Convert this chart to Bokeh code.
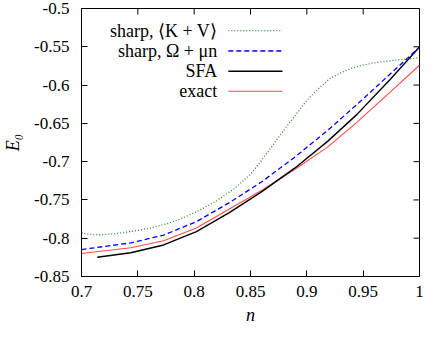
import math
from bokeh.plotting import figure
from bokeh.models import FixedTicker, Label, Range1d
from bokeh.embed import file_html
from bokeh.resources import INLINE

# ---- data ----
green_n = [0.700, 0.705, 0.710, 0.718, 0.730, 0.745, 0.760, 0.775, 0.790, 0.805,
           0.820, 0.835, 0.850, 0.860, 0.870, 0.880, 0.890, 0.900, 0.910, 0.920,
           0.930, 0.940, 0.950, 0.960, 0.970, 0.980, 0.990, 1.000]
green_E = [-0.7926, -0.7945, -0.7953, -0.7955, -0.7940, -0.7910, -0.7870, -0.7815, -0.7735, -0.7635,
           -0.7510, -0.7360, -0.7165, -0.6980, -0.6780, -0.6580, -0.6390, -0.6200, -0.6050, -0.5920,
           -0.5840, -0.5780, -0.5738, -0.5710, -0.5690, -0.5672, -0.5658, -0.5645]

blue_n = [0.700, 0.7437, 0.7729, 0.802, 0.8312, 0.8604, 0.8895, 0.9187, 0.9443, 0.9735, 1.000]
blue_E = [-0.8148, -0.8061, -0.7959, -0.7784, -0.7536, -0.7259, -0.6939, -0.6589, -0.6256, -0.5862, -0.5504]

sfa_n = [0.714, 0.7437, 0.7729, 0.802, 0.8312, 0.8604, 0.8895, 0.9187, 0.9443, 0.9735, 1.000]
sfa_E = [-0.8249, -0.8190, -0.8088, -0.7913, -0.7665, -0.7388, -0.7082, -0.6732, -0.6386, -0.5933, -0.5504]

exact_n = [0.700, 0.7437, 0.7729, 0.802, 0.8312, 0.8604, 0.8895, 0.9187, 0.9443, 0.9735, 1.000]
exact_E = [-0.8199, -0.8125, -0.8032, -0.7866, -0.7618, -0.7370, -0.7099, -0.6807, -0.6487, -0.6099, -0.5741]

x_ticks = [0.7, 0.75, 0.8, 0.85, 0.9, 0.95, 1.0]
x_tick_labels = ["0.7", "0.75", "0.8", "0.85", "0.9", "0.95", "1"]
y_ticks = [-0.85, -0.8, -0.75, -0.7, -0.65, -0.6, -0.55, -0.5]
y_tick_labels = ["-0.85", "-0.8", "-0.75", "-0.7", "-0.65", "-0.6", "-0.55", "-0.5"]

legend_names = ["sharp, \u27e8K + V\u27e9", "sharp, \u03a9 + \u03bcn", "SFA", "exact"]

FONT = "Liberation Serif"
FS = "18px"
TICK_FS = "17px"

GREEN = "#2e8b2e"
BLUE = "#0000ff"
BLACK = "#000000"
RED = "#ff4a4a"

XMIN, XMAX = 0.7, 1.0
YMIN, YMAX = -0.85, -0.5

p = figure(width=424, height=331,
           x_range=Range1d(XMIN, XMAX), y_range=Range1d(YMIN, YMAX),
           output_backend="svg", toolbar_location=None,
           min_border_left=76, min_border_right=5,
           min_border_top=8, min_border_bottom=55)
p.xgrid.visible = False
p.ygrid.visible = False
p.outline_line_color = "black"
p.outline_line_width = 1
p.background_fill_color = "white"
p.border_fill_color = "white"


def style_axis(ax, ticks, labels):
    ax.ticker = FixedTicker(ticks=ticks)
    ax.major_label_overrides = dict(zip(ticks, labels))
    ax.major_tick_in = 6
    ax.major_tick_out = 0
    ax.minor_tick_line_color = None
    ax.axis_line_color = "black"
    ax.major_tick_line_color = "black"
    ax.major_label_text_font = FONT
    ax.major_label_text_font_size = TICK_FS
    ax.major_label_text_color = "black"
    ax.axis_label_text_font = FONT
    ax.axis_label_text_font_size = FS
    ax.axis_label_text_font_style = "italic"
    ax.axis_label_text_color = "black"


xa = p.xaxis[0]
style_axis(xa, x_ticks, x_tick_labels)
xa.major_label_standoff = 9
xa.axis_label = "n"
xa.axis_label_standoff = 5

ya = p.yaxis[0]
style_axis(ya, y_ticks, y_tick_labels)
ya.major_label_standoff = 12
ya.axis_label = "E\u2080"
ya.axis_label_standoff = 8

# mirrored inward ticks on the top and right edges of the frame
p.ray(x=x_ticks, y=[YMAX] * len(x_ticks), length=6, length_units="screen",
      angle=-math.pi / 2, line_color="black", line_width=1)
p.ray(x=[XMAX] * len(y_ticks), y=y_ticks, length=6, length_units="screen",
      angle=math.pi, line_color="black", line_width=1)

# curves
p.line(exact_n, exact_E, line_color=RED, line_width=1.1)
p.line(sfa_n, sfa_E, line_color=BLACK, line_width=1.4)
p.line(blue_n, blue_E, line_color=BLUE, line_width=1.3, line_dash="5 3")
p.line(green_n, green_E, line_color=GREEN, line_width=1.3, line_dash="1 2")

# legend (text on the left, sample line on the right)
leg_text_x = 0.8204
leg_x0, leg_x1 = 0.8303, 0.8784
leg_y = [-0.5290, -0.5555, -0.5820, -0.6080]
styles = [(GREEN, 1.3, "1 2"), (BLUE, 1.3, "5 3"), (BLACK, 1.4, "solid"), (RED, 1.1, "solid")]
for name, yy, (c, w, d) in zip(legend_names, leg_y, styles):
    p.add_layout(Label(x=leg_text_x, y=yy, text=name, text_align="right",
                       text_baseline="middle", text_font=FONT,
                       text_font_size=FS, text_color="black"))
    p.line([leg_x0, leg_x1], [yy, yy], line_color=c, line_width=w, line_dash=d)

open("out.html", "w").write(file_html(p, INLINE))
